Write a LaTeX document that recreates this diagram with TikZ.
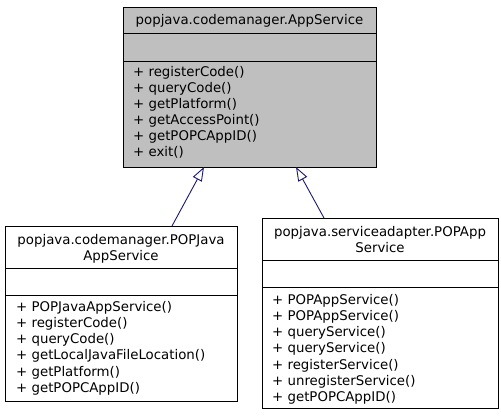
\documentclass[tikz,border=0pt]{standalone}
\usepackage{fontspec}
\setmainfont{DejaVu Sans}
\usetikzlibrary{arrows.meta}
\definecolor{edgeblue}{HTML}{191970}
\definecolor{boxgray}{HTML}{BFBFBF}
\tikzset{
  txt/.style={inner sep=0pt, font=\fontsize{13.33}{16}\selectfont},
  meth/.style={txt, anchor=base west},
  ttl/.style={txt, anchor=base},
  boxline/.style={draw=black, line width=1pt},
  inherit/.style={draw=edgeblue, line width=0.9pt, -{Triangle[open, length=14pt, width=10pt]}}
}
\begin{document}
\begin{tikzpicture}[x=1pt, y=-1pt]
\useasboundingbox (0,0) rectangle (501,416);
% top box
\draw[boxline, fill=boxgray] (123,7) rectangle (376,167);
\draw[boxline] (123,33) -- (376,33);
\draw[boxline] (123,61) -- (376,61);
\node[ttl] (t0) at (249.5,24.5) {popjava.codemanager.AppService};
\foreach \t [count=\i] in {registerCode(), queryCode(), getPlatform(), getAccessPoint(), getPOPCAppID(), exit()}
  \node[meth] (tm\i) at (133, {60+16*\i}) {+ \t};
\coordinate (pL) at (204,167);
\coordinate (pR) at (296,167);
% left box
\draw[boxline] (5,226) rectangle (237,401);
\draw[boxline] (5,268.5) -- (237,268.5);
\draw[boxline] (5,295) -- (237,295);
\node[ttl] (l0) at (121,244.5) {popjava.codemanager.POPJava};
\node[ttl] (l1) at (121,260) {AppService};
\foreach \t [count=\i] in {POPJavaAppService(), registerCode(), queryCode(), getLocalJavaFileLocation(), getPlatform(), getPOPCAppID()}
  \node[meth] (lm\i) at (16, {294.7+16.3*\i}) {+ \t};
\coordinate (cL) at (172,226);
% right box
\draw[boxline] (262,218) rectangle (498,408);
\draw[boxline] (262,260) -- (498,260);
\draw[boxline] (262,287) -- (498,287);
\node[ttl] (r0) at (380,236.5) {popjava.serviceadapter.POPApp};
\node[ttl] (r1) at (380,252.5) {Service};
\foreach \t [count=\i] in {POPAppService(), POPAppService(), queryService(), queryService(), registerService(), unregisterService(), getPOPCAppID()}
  \node[meth] (rm\i) at (272, {288+16.2*\i}) {+ \t};
\coordinate (cR) at (324,218);
% inheritance
\draw[inherit] (cL) -- (pL);
\draw[inherit] (cR) -- (pR);
\end{tikzpicture}
\end{document}
